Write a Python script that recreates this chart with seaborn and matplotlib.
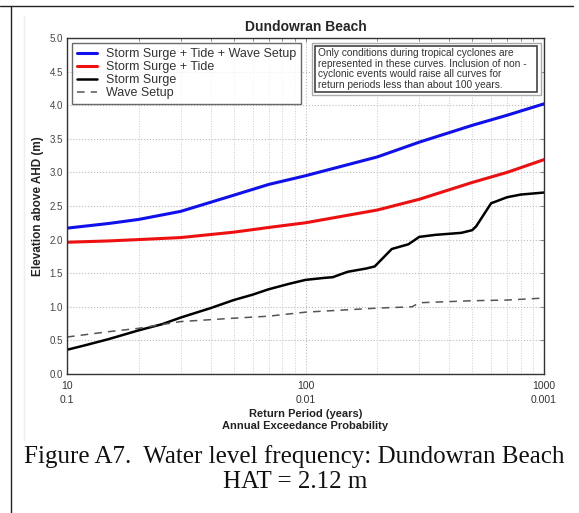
import numpy as np
import pandas as pd
import matplotlib
matplotlib.use("Agg")
import matplotlib.pyplot as plt
from matplotlib.lines import Line2D
from matplotlib.patches import Rectangle
from matplotlib.ticker import FixedLocator, LogLocator, NullFormatter
import seaborn as sns

# values
period_smooth = [10, 15, 20, 30, 50, 70, 100, 200, 300, 500, 700, 1000]
surge_tide_wave = [2.17, 2.24, 2.30, 2.42, 2.66, 2.82, 2.95, 3.23, 3.45, 3.70, 3.85, 4.02]
surge_tide = [1.96, 1.98, 2.00, 2.03, 2.11, 2.18, 2.25, 2.44, 2.60, 2.85, 3.00, 3.19]

period_surge = [10, 12, 15, 20, 25, 30, 40, 50, 60, 70, 85, 100, 120, 130,
                150, 180, 195, 230, 270, 300, 350, 450, 500, 520, 600, 700, 800, 1000]
surge = [0.36, 0.43, 0.52, 0.65, 0.74, 0.84, 0.98, 1.10, 1.18, 1.26, 1.34, 1.40,
         1.43, 1.44, 1.52, 1.57, 1.60, 1.86, 1.93, 2.04, 2.07, 2.10, 2.14, 2.20,
         2.54, 2.63, 2.67, 2.70]

period_wave = [10, 15, 20, 30, 50, 70, 100, 200, 280, 300, 500, 700, 1000]
wave_setup = [0.55, 0.63, 0.68, 0.78, 0.83, 0.86, 0.92, 0.98, 1.00, 1.06, 1.09, 1.10, 1.13]

x_ticks = [10, 100, 1000]
x_ticklabels = ["10\n0.1", "100\n0.01", "1000\n0.001"]
y_ticks = [0.0, 0.5, 1.0, 1.5, 2.0, 2.5, 3.0, 3.5, 4.0, 4.5, 5.0]

note = ("Only conditions during tropical cyclones are\n"
        "represented in these curves. Inclusion of non -\n"
        "cyclonic events would raise all curves for\n"
        "return periods less than about 100 years.")

sns.set_theme(style="white")
plt.rcParams["font.family"] = ["Liberation Sans", "DejaVu Sans"]

fig = plt.figure(figsize=(5.79, 5.13), dpi=100)
ax = fig.add_axes([0.1157, 0.2710, 0.8239, 0.6550])

sns.lineplot(x=period_smooth, y=surge_tide_wave, ax=ax, color="#1010ee",
             linewidth=2.2, label="Storm Surge + Tide + Wave Setup")
sns.lineplot(x=period_smooth, y=surge_tide, ax=ax, color="#ee1010",
             linewidth=2.2, label="Storm Surge + Tide")
sns.lineplot(x=period_surge, y=surge, ax=ax, color="black",
             linewidth=1.8, label="Storm Surge")
sns.lineplot(x=period_wave, y=wave_setup, ax=ax, color="#555555",
             linewidth=1.1, linestyle=(0, (5, 4)), label="Wave Setup")

ax.set_xscale("log")
ax.set_xlim(10, 1000)
ax.set_ylim(0, 5)
ax.xaxis.set_major_locator(FixedLocator(x_ticks))
ax.xaxis.set_minor_locator(LogLocator(base=10, subs=np.arange(2, 10)))
ax.xaxis.set_minor_formatter(NullFormatter())
ax.set_xticklabels(x_ticklabels, fontsize=7.5, color="#333333", linespacing=1.45)
ax.set_yticks(y_ticks)
ax.set_yticklabels([f"{v:.1f}" for v in y_ticks], fontsize=7, color="#444444")
ax.tick_params(which="both", direction="in", top=True, right=True,
               length=3, width=0.6, color="#777777", pad=3)
ax.tick_params(axis="x", which="major", pad=5)
ax.tick_params(which="minor", length=2)

ax.grid(True, which="major", linestyle=":", color="#bbbbbb", linewidth=0.8)
ax.grid(True, which="minor", axis="x", linestyle=":", color="#cccccc", linewidth=0.7)
for s in ax.spines.values():
    s.set_color("#333333")
    s.set_linewidth(1.0)

ax.set_title("Dundowran Beach", fontsize=10, fontweight="bold", pad=5)
ax.set_xlabel("Return Period (years)\nAnnual Exceedance Probability",
              fontsize=8, fontweight="bold", color="#222222", linespacing=1.3)
ax.xaxis.set_label_coords(0.5, -0.103)
ax.set_ylabel("Elevation above AHD (m)", fontsize=8.5, fontweight="bold",
              color="#222222", labelpad=4)

leg = ax.legend(loc="upper left", fontsize=9, frameon=True, fancybox=False,
                handlelength=1.6, borderaxespad=0.4, labelspacing=0.08,
                borderpad=0.4, handletextpad=0.7)
leg.get_frame().set_edgecolor("#444444")
leg.get_frame().set_linewidth(1.0)
for t in leg.get_texts():
    t.set_color("#333333")

# note box with double border
ax.add_patch(Rectangle((0.514, 0.830), 0.480, 0.155, transform=ax.transAxes,
                       facecolor="white", edgecolor="#aaaaaa", linewidth=1.0,
                       zorder=5))
ax.add_patch(Rectangle((0.520, 0.838), 0.466, 0.139, transform=ax.transAxes,
                       facecolor="white", edgecolor="#444444", linewidth=1.2,
                       zorder=5))
ax.text(0.527, 0.970, note, transform=ax.transAxes, ha="left", va="top",
        fontsize=7.3, color="#333333", linespacing=1.08, zorder=6)

fig.text(0.509, 0.111, "Figure A7.  Water level frequency: Dundowran Beach",
         ha="center", va="center", fontsize=18, color="#111111",
         family=["Liberation Serif", "DejaVu Serif"])
fig.text(0.509, 0.060, "HAT = 2.12 m", ha="center", va="center",
         fontsize=18, color="#111111",
         family=["Liberation Serif", "DejaVu Serif"])

# page borders of the scanned document
fig.add_artist(Line2D([0, 0.99], [1 - 6 / 513, 1 - 6 / 513], color="#222222",
                      linewidth=1.0, transform=fig.transFigure))
fig.add_artist(Line2D([11 / 579, 11 / 579], [0, 1 - 6 / 513], color="#222222",
                      linewidth=1.0, transform=fig.transFigure))
fig.add_artist(Line2D([24 / 579, 24 / 579], [1 - 440 / 513, 1 - 16 / 513],
                      color="#eeeeee", linewidth=1.0, transform=fig.transFigure))

fig.savefig("out.png", dpi=100)
